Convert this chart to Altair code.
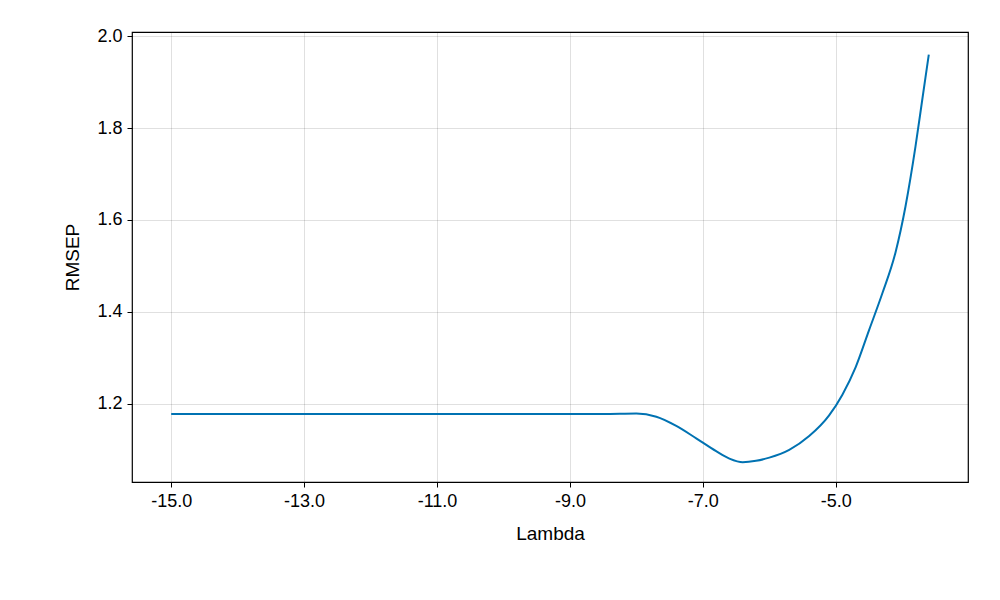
import altair as alt
import pandas as pd

lam = [-15, -8.5, -8.0, -7.7, -7.4, -7.1, -6.8, -6.6, -6.4, -6.2, -6.0, -5.7, -5.4, -5.1, -4.9, -4.7, -4.5, -4.3, -4.1, -3.95, -3.8, -3.7, -3.6]
rmsep = [1.178, 1.178, 1.179, 1.172, 1.152, 1.125, 1.097, 1.081, 1.073, 1.076, 1.083, 1.1, 1.13, 1.175, 1.22, 1.28, 1.36, 1.44, 1.53, 1.63, 1.76, 1.86, 1.96]
xticks = [-15, -13, -11, -9, -7, -5]
yticks = [1.2, 1.4, 1.6, 1.8, 2.0]

df = pd.DataFrame({"Lambda": lam, "RMSEP": rmsep})

lbl = "replace(format(datum.value, '.1f'), '\u2212', '-')"

chart = alt.Chart(df).mark_line(color="#0072b2", strokeWidth=2, interpolate="monotone").encode(
    x=alt.X("Lambda:Q", scale=alt.Scale(domain=[-15.59, -3.01], nice=False, zero=False),
            axis=alt.Axis(values=xticks, labelExpr=lbl, title="Lambda")),
    y=alt.Y("RMSEP:Q", scale=alt.Scale(domain=[1.03, 2.009], nice=False, zero=False),
            axis=alt.Axis(values=yticks, labelExpr=lbl, title="RMSEP")),
).properties(
    width=836, height=450,
    autosize=alt.AutoSizeParams(type="none"),
    padding={"left": 124, "top": 24, "right": 24, "bottom": 110},
).configure_view(stroke="black", strokeWidth=1.2).configure_axis(
    labelFont="Liberation Sans", titleFont="Liberation Sans",
    labelFontSize=18, titleFontSize=19, titleFontWeight="normal",
    labelColor="black", titleColor="black",
    gridColor="#000", gridOpacity=0.12, grid=True,
    domain=False, tickColor="black", tickSize=5, labelPadding=5,
).configure_axisX(titlePadding=14).configure_axisY(titlePadding=14)

chart.save("out.html", embed_options={"renderer": "svg", "actions": False})
